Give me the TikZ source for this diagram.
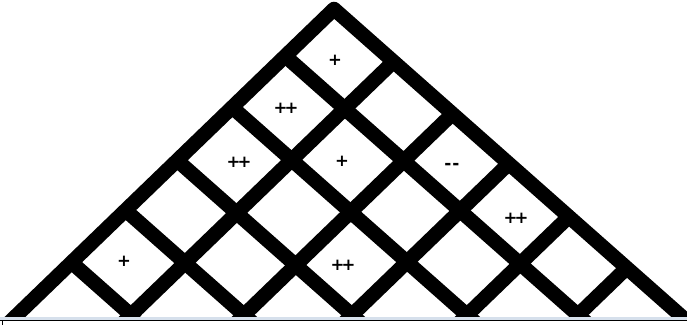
\documentclass[tikz,border=0pt]{standalone}
\usepackage{fontspec}
\newfontfamily\signfont{DejaVu Sans}
\usetikzlibrary{calc}
\definecolor{bandblue}{RGB}{214,224,236}
\definecolor{baseline}{RGB}{85,88,96}
\begin{document}
\begin{tikzpicture}[x=1pt,y=-1pt,
  gridline/.style={line width=14.5pt, black},
  edgeline/.style={line width=14.5pt, black, line join=round},
  sign/.style={font=\signfont\bfseries\fontsize{16.5}{16.5}\selectfont, inner sep=0pt},
  dashsign/.style={font=\signfont\bfseries\fontsize{17}{17}\selectfont, inner sep=0pt}]
\useasboundingbox (0,0) rectangle (687,325);
% outer triangle
\coordinate (L) at (17,315);
\coordinate (A) at (334,9);
\coordinate (R) at (680,315);
\begin{scope}
  \clip (0,0) rectangle (687,316.5);
  \draw[edgeline] ($(L)!-0.05!(A)$) -- (A) -- ($(R)!-0.05!(A)$);
  \foreach \x [count=\i] in {131,244,352,467,578} {
    \coordinate (b\i) at (\x,315);
    \coordinate (r\i) at ($(R)!{(680-\x)/663}!(A)$);
    \coordinate (l\i) at ($(L)!{(\x-17)/663}!(A)$);
    \draw[gridline] ($(b\i)!-0.1!(r\i)$) -- (r\i);
    \draw[gridline] ($(b\i)!-0.1!(l\i)$) -- (l\i);
  }
\end{scope}
% bottom band and rule
\fill[bandblue] (0,316.5) rectangle (687,319.7);
\draw[baseline, line width=1.2pt] (0,320.6) -- (687,320.6);
\draw[baseline, line width=1pt] (2,320.6) -- (2,325);
% signs
\node[sign] (s1) at (335,60) {+};
\node[sign] (s2) at (286,108) {+\kern-3pt+};
\node[sign] (s3) at (239,162) {+\kern-3pt+};
\node[sign] (s4) at (342,161) {+};
\node[dashsign] (s5) at (452,166) {-\kern1pt-};
\node[sign] (s6) at (516,218) {+\kern-3pt+};
\node[sign] (s7) at (124,261) {+};
\node[sign] (s8) at (343,265) {+\kern-3pt+};
\end{tikzpicture}
\end{document}
